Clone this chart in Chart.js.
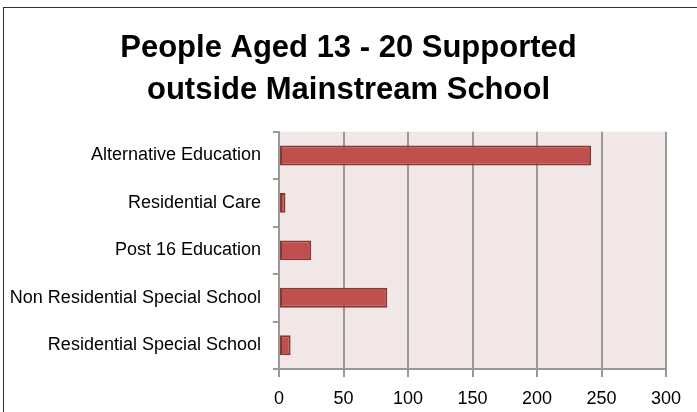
<!DOCTYPE html>
<html>
<head>
<meta charset="utf-8">
<script src="https://cdn.jsdelivr.net/npm/chart.js@4/dist/chart.umd.min.js"></script>
<style>
	html, body { margin: 0; background: #fff; overflow: hidden; }
	#wrap { position: relative; width: 697px; height: 412px; overflow: hidden; }
	#frame { position: absolute; left: 3px; top: 7px; width: 720px; height: 430px; border-left: 1.5px solid #333; border-top: 1.5px solid #333; pointer-events: none; }
</style>
</head>
<body>
<div id="wrap">
	<canvas id="chart"></canvas>
	<div id="frame"></div>
</div>
<script>
const categories = ["Alternative Education", "Residential Care", "Post 16 Education",
                    "Non Residential Special School", "Residential Special School"];
const counts = [242, 5, 25, 84, 9];
const xTicks = [0, 50, 100, 150, 200, 250, 300];
const titleLines = ["People Aged 13 - 20 Supported", "outside Mainstream School"];

const FONT = "'Liberation Sans', Arial, sans-serif";

// pinkish plot area behind the bars
const plotBackground = {
	id: "plotBackground",
	beforeDraw(chart)
	{
		let a = chart.chartArea;
		let ctx = chart.ctx;
		ctx.save();
		ctx.fillStyle = "#F2E7E7";
		ctx.fillRect(a.left, a.top, a.right - a.left, a.bottom - a.top);
		ctx.restore();
	}
};

new Chart(document.getElementById("chart"),
{
	type: "bar",
	data:
	{
		labels: categories,
		datasets: [{
			data: counts,
			backgroundColor: "#C0504D",
			borderColor: "#8A3634",
			borderWidth: 2,
			borderSkipped: false,
			barPercentage: 0.42,
			categoryPercentage: 1
		}]
	},
	options:
	{
		indexAxis: "y",
		responsive: true,
		maintainAspectRatio: false,
		animation: false,
		layout: { padding: 0 },
		plugins:
		{
			legend: { display: false },
			tooltip: { enabled: false },
			title:
			{
				display: true,
				text: titleLines,
				color: "#000",
				font: { family: FONT, size: 31, weight: "bold", lineHeight: 1.35 },
				padding: { top: 27.5, bottom: 20.5 }
			}
		},
		scales:
		{
			x:
			{
				min: 0,
				max: 300,
				afterBuildTicks: (s) => { s.ticks = xTicks.map(v => ({ value: v })); },
				afterFit: (s) => { s.height = 43; },
				grid: { color: "#999", lineWidth: 2, tickLength: 8 },
				border: { color: "#999", width: 2 },
				ticks: { color: "#000", padding: 11, font: { family: FONT, size: 18 } }
			},
			y:
			{
				afterFit: (s) => { s.width = 279; },
				grid: { drawOnChartArea: false, color: "#999", lineWidth: 2, tickLength: 6 },
				border: { color: "#999", width: 2 },
				ticks: { color: "#000", padding: 12, font: { family: FONT, size: 18 } }
			},
			// empty right-hand strip so the title stays centred on the whole page
			spacer:
			{
				type: "linear",
				position: "right",
				afterFit: (s) => { s.width = 31; },
				grid: { display: false },
				border: { display: false },
				ticks: { display: false }
			}
		}
	},
	plugins: [plotBackground]
});
</script>
</body>
</html>
